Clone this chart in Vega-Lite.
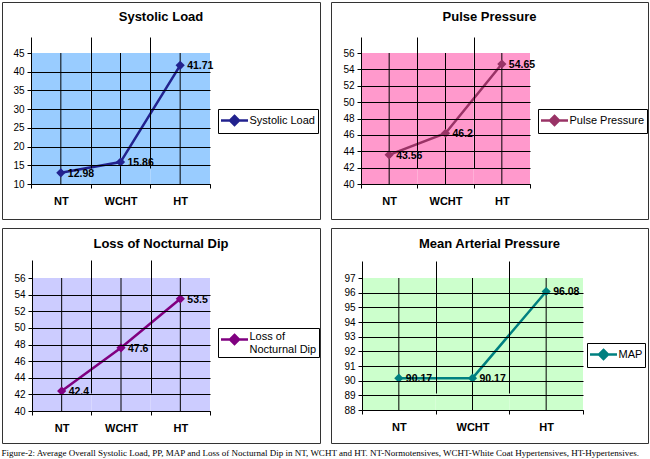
{
  "$schema": "https://vega.github.io/schema/vega-lite/v6.json",
  "background": "white",
  "padding": {"left": 1, "top": 1, "right": 0, "bottom": 0},
  "spacing": 7,
  "resolve": {"scale": {"color": "independent"}, "legend": {"color": "independent"}},
  "title": {"text": "Figure-2: Average Overall Systolic Load, PP, MAP and Loss of Nocturnal Dip in NT, WCHT and HT. NT-Normotensives, WCHT-White Coat Hypertensives, HT-Hypertensives.", "orient": "bottom", "anchor": "start", "font": "Liberation Serif", "fontSize": 9, "fontWeight": "normal", "color": "black", "offset": 5, "frame": "bounds"},
  "config": {
    "font": "Liberation Sans",
    "view": {"fill": "white", "stroke": "#333333", "strokeWidth": 1},
    "axis": {"domainColor": "black", "tickColor": "black", "gridColor": "black", "labelColor": "black", "gridWidth": 1, "domainWidth": 1, "tickSize": 4, "labelFont": "Liberation Sans"},
    "legend": {"labelFont": "Liberation Sans", "labelFontSize": 11, "labelColor": "black", "padding": 2.5, "strokeColor": "black", "fillColor": "white", "labelOffset": 6, "symbolOffset": 5, "symbolSize": 225, "symbolStrokeWidth": 2.5, "symbolType": "M-1.8,0H1.8M0,-0.6L0.6,0L0,0.6L-0.6,0Z"},
    "title": {"font": "Liberation Sans", "fontSize": 13, "fontWeight": "bold", "color": "black", "anchor": "middle", "frame": "group", "offset": -22}
  },
  "vconcat": [
    {
      "spacing": 9,
      "resolve": {"scale": {"color": "independent"}, "legend": {"color": "independent"}},
      "hconcat": [
        {
          "width": 318, "height": 217,
          "title": {"text": "Systolic Load"},
          "data": {"values": [{"group": "NT", "value": 12.98}, {"group": "WCHT", "value": 15.86}, {"group": "HT", "value": 41.71}]},
          "encoding": {
            "x": {"field": "group", "type": "nominal", "sort": ["NT", "WCHT", "HT"], "scale": {"type": "band", "range": [29, 208], "paddingInner": 0, "paddingOuter": 0}, "axis": {"title": null, "orient": "bottom", "offset": -35, "zindex": 1, "labelAngle": 0, "labelFontWeight": "bold", "labelFontSize": 11, "labelPadding": 7, "grid": true, "tickBand": "extent", "gridOpacity": {"condition": {"test": "datum.value === 'HT'", "value": 0}, "value": 1}}},
            "y": {"field": "value", "type": "quantitative", "title": null, "scale": {"domain": [10, 45], "range": [182, 51], "nice": false, "zero": false}, "axis": {"title": null, "orient": "left", "offset": -29, "zindex": 1, "values": [10, 15, 20, 25, 30, 35, 40, 45], "labelFontSize": 10, "labelPadding": 3, "grid": true, "gridOpacity": {"condition": {"test": "datum.value >= 45", "value": 0}, "value": 1}}}
          },
          "layer": [
            {"mark": {"type": "rect", "color": "#99ccff"}, "encoding": {"y": {"datum": 10, "type": "quantitative", "title": null}, "y2": {"datum": 45}}},
            {"mark": {"type": "rule", "color": "black", "strokeWidth": 1}, "encoding": {"y": {"datum": 10, "type": "quantitative", "title": null}, "y2": {"datum": 45}}},
            {"mark": {"type": "line", "strokeWidth": 2.5}, "encoding": {"color": {"datum": "Systolic Load", "scale": {"range": ["#22228e"]}, "legend": {"title": null, "orient": "none", "legendX": 216, "legendY": 107, "symbolFillColor": "#22228e"}}}},
            {"mark": {"type": "point", "shape": "diamond", "filled": true, "size": 85, "opacity": 1}, "encoding": {"color": {"datum": "Systolic Load"}}},
            {"mark": {"type": "text", "align": "left", "baseline": "middle", "dx": 7, "dy": 1, "fontSize": 10.5, "fontWeight": "bold", "color": "black"}, "encoding": {"text": {"field": "value", "type": "nominal"}}}
          ]
        },
        {
          "width": 317, "height": 217,
          "title": {"text": "Pulse Pressure"},
          "data": {"values": [{"group": "NT", "value": 43.56}, {"group": "WCHT", "value": 46.2}, {"group": "HT", "value": 54.65}]},
          "encoding": {
            "x": {"field": "group", "type": "nominal", "sort": ["NT", "WCHT", "HT"], "scale": {"type": "band", "range": [30, 199], "paddingInner": 0, "paddingOuter": 0}, "axis": {"title": null, "orient": "bottom", "offset": -35, "zindex": 1, "labelAngle": 0, "labelFontWeight": "bold", "labelFontSize": 11, "labelPadding": 7, "grid": true, "tickBand": "extent", "gridOpacity": {"condition": {"test": "datum.value === 'HT'", "value": 0}, "value": 1}}},
            "y": {"field": "value", "type": "quantitative", "title": null, "scale": {"domain": [40, 56], "range": [182, 51], "nice": false, "zero": false}, "axis": {"title": null, "orient": "left", "offset": -30, "zindex": 1, "values": [40, 42, 44, 46, 48, 50, 52, 54, 56], "labelFontSize": 10, "labelPadding": 3, "grid": true, "gridOpacity": {"condition": {"test": "datum.value >= 56", "value": 0}, "value": 1}}}
          },
          "layer": [
            {"mark": {"type": "rect", "color": "#ff99cc"}, "encoding": {"y": {"datum": 40, "type": "quantitative", "title": null}, "y2": {"datum": 56}}},
            {"mark": {"type": "rule", "color": "black", "strokeWidth": 1}, "encoding": {"y": {"datum": 40, "type": "quantitative", "title": null}, "y2": {"datum": 56}}},
            {"mark": {"type": "line", "strokeWidth": 2.5}, "encoding": {"color": {"datum": "Pulse Pressure", "scale": {"range": ["#993366"]}, "legend": {"title": null, "orient": "none", "legendX": 207, "legendY": 107, "symbolFillColor": "#993366"}}}},
            {"mark": {"type": "point", "shape": "diamond", "filled": true, "size": 85, "opacity": 1}, "encoding": {"color": {"datum": "Pulse Pressure"}}},
            {"mark": {"type": "text", "align": "left", "baseline": "middle", "dx": 7, "dy": 1, "fontSize": 10.5, "fontWeight": "bold", "color": "black"}, "encoding": {"text": {"field": "value", "type": "nominal"}}}
          ]
        }
      ]
    },
    {
      "spacing": 9,
      "resolve": {"scale": {"color": "independent"}, "legend": {"color": "independent"}},
      "hconcat": [
        {
          "width": 318, "height": 215,
          "title": {"text": "Loss of Nocturnal Dip", "offset": -23},
          "data": {"values": [{"group": "NT", "value": 42.4}, {"group": "WCHT", "value": 47.6}, {"group": "HT", "value": 53.5}]},
          "encoding": {
            "x": {"field": "group", "type": "nominal", "sort": ["NT", "WCHT", "HT"], "scale": {"type": "band", "range": [30, 208], "paddingInner": 0, "paddingOuter": 0}, "axis": {"title": null, "orient": "bottom", "offset": -32, "zindex": 1, "labelAngle": 0, "labelFontWeight": "bold", "labelFontSize": 11, "labelPadding": 7, "grid": true, "tickBand": "extent", "gridOpacity": {"condition": {"test": "datum.value === 'HT'", "value": 0}, "value": 1}}},
            "y": {"field": "value", "type": "quantitative", "title": null, "scale": {"domain": [40, 56], "range": [183, 50], "nice": false, "zero": false}, "axis": {"title": null, "orient": "left", "offset": -30, "zindex": 1, "values": [40, 42, 44, 46, 48, 50, 52, 54, 56], "labelFontSize": 10, "labelPadding": 3, "grid": true, "gridOpacity": {"condition": {"test": "datum.value >= 56", "value": 0}, "value": 1}}}
          },
          "layer": [
            {"mark": {"type": "rect", "color": "#ccccff"}, "encoding": {"y": {"datum": 40, "type": "quantitative", "title": null}, "y2": {"datum": 56}}},
            {"mark": {"type": "rule", "color": "black", "strokeWidth": 1}, "encoding": {"y": {"datum": 40, "type": "quantitative", "title": null}, "y2": {"datum": 56}}},
            {"mark": {"type": "line", "strokeWidth": 2.5}, "encoding": {"color": {"datum": "Loss of Nocturnal Dip", "scale": {"range": ["#800080"]}, "legend": {"title": null, "orient": "none", "legendX": 216, "legendY": 100, "labelExpr": "['Loss of', 'Nocturnal Dip']", "labelBaseline": "alphabetic", "symbolFillColor": "#800080"}}}},
            {"mark": {"type": "point", "shape": "diamond", "filled": true, "size": 85, "opacity": 1}, "encoding": {"color": {"datum": "Loss of Nocturnal Dip"}}},
            {"mark": {"type": "text", "align": "left", "baseline": "middle", "dx": 7, "dy": 1, "fontSize": 10.5, "fontWeight": "bold", "color": "black"}, "encoding": {"text": {"field": "value", "type": "nominal"}}}
          ]
        },
        {
          "width": 317, "height": 215,
          "title": {"text": "Mean Arterial Pressure", "offset": -23},
          "data": {"values": [{"group": "NT", "value": 90.17}, {"group": "WCHT", "value": 90.17}, {"group": "HT", "value": 96.08}]},
          "encoding": {
            "x": {"field": "group", "type": "nominal", "sort": ["NT", "WCHT", "HT"], "scale": {"type": "band", "range": [31, 252], "paddingInner": 0, "paddingOuter": 0}, "axis": {"title": null, "orient": "bottom", "offset": -33, "zindex": 1, "labelAngle": 0, "labelFontWeight": "bold", "labelFontSize": 11, "labelPadding": 7, "grid": true, "tickBand": "extent", "gridOpacity": {"condition": {"test": "datum.value === 'HT'", "value": 0}, "value": 1}}},
            "y": {"field": "value", "type": "quantitative", "title": null, "scale": {"domain": [88, 97], "range": [182, 50], "nice": false, "zero": false}, "axis": {"title": null, "orient": "left", "offset": -31, "zindex": 1, "values": [88, 89, 90, 91, 92, 93, 94, 95, 96, 97], "labelFontSize": 10, "labelPadding": 3, "grid": true, "gridOpacity": {"condition": {"test": "datum.value >= 97", "value": 0}, "value": 1}}}
          },
          "layer": [
            {"mark": {"type": "rect", "color": "#ccffcc"}, "encoding": {"y": {"datum": 88, "type": "quantitative", "title": null}, "y2": {"datum": 97}}},
            {"mark": {"type": "rule", "color": "black", "strokeWidth": 1}, "encoding": {"y": {"datum": 88, "type": "quantitative", "title": null}, "y2": {"datum": 97}}},
            {"mark": {"type": "line", "strokeWidth": 2.5}, "encoding": {"color": {"datum": "MAP", "scale": {"range": ["#008080"]}, "legend": {"title": null, "orient": "none", "legendX": 256, "legendY": 115, "symbolFillColor": "#008080"}}}},
            {"mark": {"type": "point", "shape": "diamond", "filled": true, "size": 85, "opacity": 1}, "encoding": {"color": {"datum": "MAP"}}},
            {"mark": {"type": "text", "align": "left", "baseline": "middle", "dx": 7, "dy": 1, "fontSize": 10.5, "fontWeight": "bold", "color": "black"}, "encoding": {"text": {"field": "value", "type": "nominal"}}}
          ]
        }
      ]
    }
  ]
}
